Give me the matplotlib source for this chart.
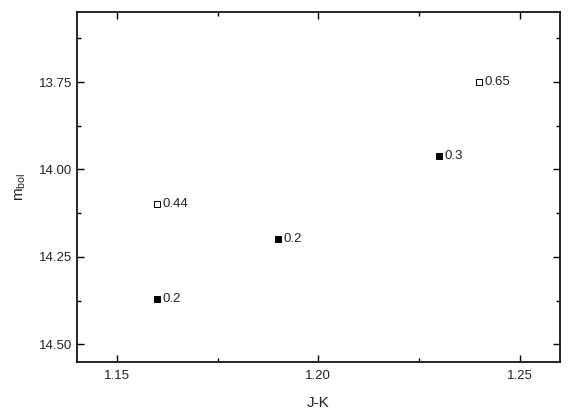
import matplotlib.pyplot as plt
from matplotlib.ticker import MultipleLocator

plt.rcParams['font.family'] = ['Liberation Sans', 'DejaVu Sans']

# --- DATA ---
jk = [1.16, 1.16, 1.19, 1.23, 1.24]
mbol = [14.37, 14.10, 14.20, 13.96, 13.75]
labels = ['0.2', '0.44', '0.2', '0.3', '0.65']
filled = [True, False, True, True, False]
# ------------

fig = plt.figure(figsize=(5.7, 4.16), dpi=100)
ax = fig.add_axes([0.135, 0.130, 0.847, 0.841])

for x, y, lab, f in zip(jk, mbol, labels, filled):
    ax.plot(x, y, marker='s', ms=5, mec='black', mew=0.7,
            mfc='black' if f else 'white', ls='none')
    ax.annotate(lab, (x, y), xytext=(4, 0), textcoords='offset points',
                va='center', ha='left', fontsize=9.5, color='#222222')

ax.set_xlim(1.14, 1.26)
ax.set_ylim(14.55, 13.55)
ax.xaxis.set_major_locator(MultipleLocator(0.05))
ax.xaxis.set_minor_locator(MultipleLocator(0.025))
ax.yaxis.set_major_locator(MultipleLocator(0.25))
ax.yaxis.set_minor_locator(MultipleLocator(0.125))
ax.xaxis.set_major_formatter(plt.FormatStrFormatter('%.2f'))
ax.yaxis.set_major_formatter(plt.FormatStrFormatter('%.2f'))
ax.tick_params(which='both', direction='in', top=True, right=True,
               labelsize=9.5, width=1, labelcolor='#222222')
ax.tick_params(which='major', length=5)
ax.tick_params(which='minor', length=3)
ax.tick_params(axis='x', which='major', pad=6)
for s in ax.spines.values():
    s.set_linewidth(1.2)

ax.set_xlabel('J-K', fontsize=11, labelpad=10, color='#222222')
ax.set_ylabel(r'm$_\mathregular{bol}$', fontsize=11, labelpad=8, color='#222222')

fig.savefig('out.png')
